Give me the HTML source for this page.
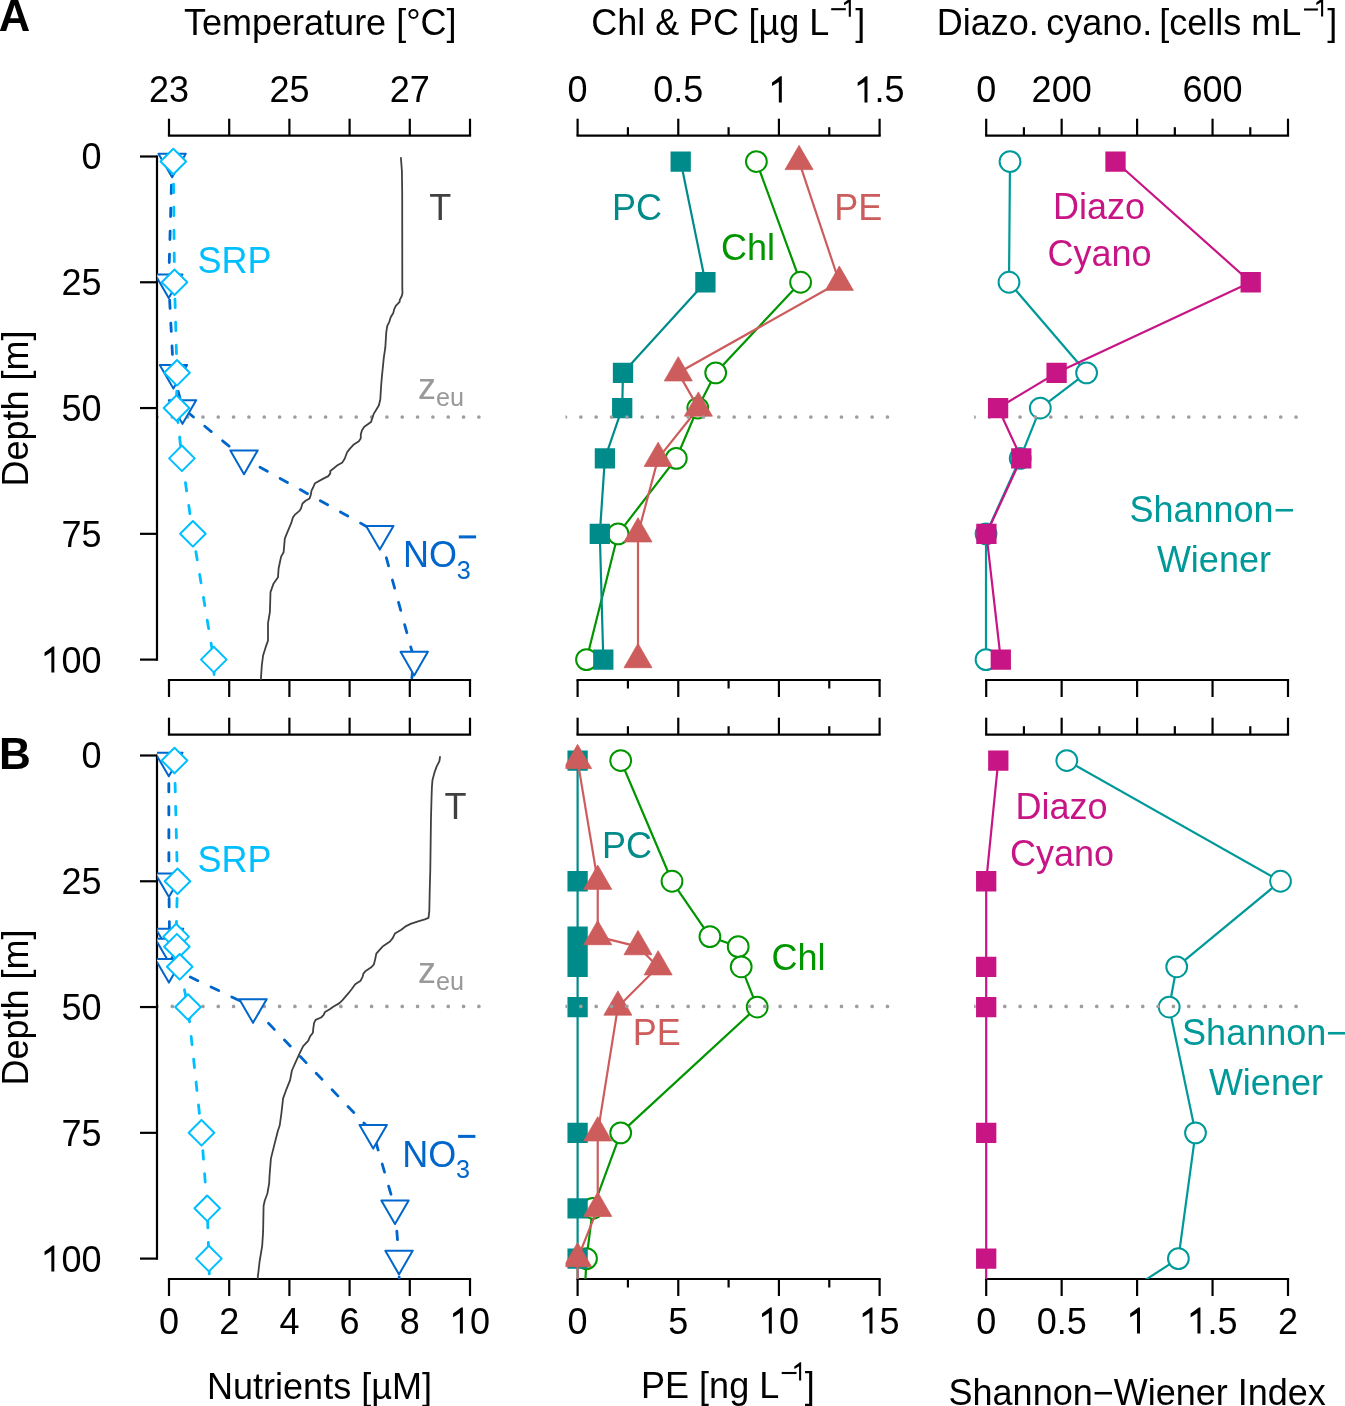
<!DOCTYPE html><html><head><meta charset="utf-8"><style>html,body{margin:0;padding:0;background:#fff;}svg{display:block;will-change:transform;}text{font-family:"Liberation Sans",sans-serif;}</style></head><body>
<svg width="1345" height="1406" viewBox="0 0 1345 1406">
<rect width="1345" height="1406" fill="#fff"/>
<defs>
<clipPath id="cA1"><rect x="156.96" y="135.7" width="325.08" height="544.3"/></clipPath>
<clipPath id="cA2"><rect x="565.52" y="135.7" width="326.16" height="544.3"/></clipPath>
<clipPath id="cA3"><rect x="974.13" y="135.7" width="325.94" height="544.3"/></clipPath>
<clipPath id="cB1"><rect x="156.96" y="734.7" width="325.08" height="544.3"/></clipPath>
<clipPath id="cB2"><rect x="565.52" y="734.7" width="326.16" height="544.3"/></clipPath>
<clipPath id="cB3"><rect x="974.13" y="734.7" width="325.94" height="544.3"/></clipPath>
</defs>
<g clip-path="url(#cA1)"><path d="M155.11,417a1.85,1.85 0 1,0 3.7,0a1.85,1.85 0 1,0 -3.7,0ZM170.44,417a1.85,1.85 0 1,0 3.7,0a1.85,1.85 0 1,0 -3.7,0ZM185.77,417a1.85,1.85 0 1,0 3.7,0a1.85,1.85 0 1,0 -3.7,0ZM201.1,417a1.85,1.85 0 1,0 3.7,0a1.85,1.85 0 1,0 -3.7,0ZM216.43,417a1.85,1.85 0 1,0 3.7,0a1.85,1.85 0 1,0 -3.7,0ZM231.76,417a1.85,1.85 0 1,0 3.7,0a1.85,1.85 0 1,0 -3.7,0ZM247.09,417a1.85,1.85 0 1,0 3.7,0a1.85,1.85 0 1,0 -3.7,0ZM262.42,417a1.85,1.85 0 1,0 3.7,0a1.85,1.85 0 1,0 -3.7,0ZM277.75,417a1.85,1.85 0 1,0 3.7,0a1.85,1.85 0 1,0 -3.7,0ZM293.08,417a1.85,1.85 0 1,0 3.7,0a1.85,1.85 0 1,0 -3.7,0ZM308.41,417a1.85,1.85 0 1,0 3.7,0a1.85,1.85 0 1,0 -3.7,0ZM323.74,417a1.85,1.85 0 1,0 3.7,0a1.85,1.85 0 1,0 -3.7,0ZM339.07,417a1.85,1.85 0 1,0 3.7,0a1.85,1.85 0 1,0 -3.7,0ZM354.4,417a1.85,1.85 0 1,0 3.7,0a1.85,1.85 0 1,0 -3.7,0ZM369.73,417a1.85,1.85 0 1,0 3.7,0a1.85,1.85 0 1,0 -3.7,0ZM385.06,417a1.85,1.85 0 1,0 3.7,0a1.85,1.85 0 1,0 -3.7,0ZM400.39,417a1.85,1.85 0 1,0 3.7,0a1.85,1.85 0 1,0 -3.7,0ZM415.72,417a1.85,1.85 0 1,0 3.7,0a1.85,1.85 0 1,0 -3.7,0ZM431.05,417a1.85,1.85 0 1,0 3.7,0a1.85,1.85 0 1,0 -3.7,0ZM446.38,417a1.85,1.85 0 1,0 3.7,0a1.85,1.85 0 1,0 -3.7,0ZM461.71,417a1.85,1.85 0 1,0 3.7,0a1.85,1.85 0 1,0 -3.7,0ZM477.04,417a1.85,1.85 0 1,0 3.7,0a1.85,1.85 0 1,0 -3.7,0Z" fill="#9E9E9E"/></g><g clip-path="url(#cB1)"><path d="M155.11,1006.4a1.85,1.85 0 1,0 3.7,0a1.85,1.85 0 1,0 -3.7,0ZM170.44,1006.4a1.85,1.85 0 1,0 3.7,0a1.85,1.85 0 1,0 -3.7,0ZM185.77,1006.4a1.85,1.85 0 1,0 3.7,0a1.85,1.85 0 1,0 -3.7,0ZM201.1,1006.4a1.85,1.85 0 1,0 3.7,0a1.85,1.85 0 1,0 -3.7,0ZM216.43,1006.4a1.85,1.85 0 1,0 3.7,0a1.85,1.85 0 1,0 -3.7,0ZM231.76,1006.4a1.85,1.85 0 1,0 3.7,0a1.85,1.85 0 1,0 -3.7,0ZM247.09,1006.4a1.85,1.85 0 1,0 3.7,0a1.85,1.85 0 1,0 -3.7,0ZM262.42,1006.4a1.85,1.85 0 1,0 3.7,0a1.85,1.85 0 1,0 -3.7,0ZM277.75,1006.4a1.85,1.85 0 1,0 3.7,0a1.85,1.85 0 1,0 -3.7,0ZM293.08,1006.4a1.85,1.85 0 1,0 3.7,0a1.85,1.85 0 1,0 -3.7,0ZM308.41,1006.4a1.85,1.85 0 1,0 3.7,0a1.85,1.85 0 1,0 -3.7,0ZM323.74,1006.4a1.85,1.85 0 1,0 3.7,0a1.85,1.85 0 1,0 -3.7,0ZM339.07,1006.4a1.85,1.85 0 1,0 3.7,0a1.85,1.85 0 1,0 -3.7,0ZM354.4,1006.4a1.85,1.85 0 1,0 3.7,0a1.85,1.85 0 1,0 -3.7,0ZM369.73,1006.4a1.85,1.85 0 1,0 3.7,0a1.85,1.85 0 1,0 -3.7,0ZM385.06,1006.4a1.85,1.85 0 1,0 3.7,0a1.85,1.85 0 1,0 -3.7,0ZM400.39,1006.4a1.85,1.85 0 1,0 3.7,0a1.85,1.85 0 1,0 -3.7,0ZM415.72,1006.4a1.85,1.85 0 1,0 3.7,0a1.85,1.85 0 1,0 -3.7,0ZM431.05,1006.4a1.85,1.85 0 1,0 3.7,0a1.85,1.85 0 1,0 -3.7,0ZM446.38,1006.4a1.85,1.85 0 1,0 3.7,0a1.85,1.85 0 1,0 -3.7,0ZM461.71,1006.4a1.85,1.85 0 1,0 3.7,0a1.85,1.85 0 1,0 -3.7,0ZM477.04,1006.4a1.85,1.85 0 1,0 3.7,0a1.85,1.85 0 1,0 -3.7,0Z" fill="#9E9E9E"/></g>
<line x1="169" y1="135.7" x2="470" y2="135.7" stroke="#000" stroke-width="2.2" stroke-linecap="square"/>
<line x1="169" y1="135.7" x2="169" y2="118.7" stroke="#000" stroke-width="2.2"/>
<line x1="229.2" y1="135.7" x2="229.2" y2="118.7" stroke="#000" stroke-width="2.2"/>
<line x1="289.4" y1="135.7" x2="289.4" y2="118.7" stroke="#000" stroke-width="2.2"/>
<line x1="349.6" y1="135.7" x2="349.6" y2="118.7" stroke="#000" stroke-width="2.2"/>
<line x1="409.8" y1="135.7" x2="409.8" y2="118.7" stroke="#000" stroke-width="2.2"/>
<line x1="470" y1="135.7" x2="470" y2="118.7" stroke="#000" stroke-width="2.2"/>
<line x1="169" y1="680" x2="470" y2="680" stroke="#000" stroke-width="2.2" stroke-linecap="square"/>
<line x1="169" y1="680" x2="169" y2="697" stroke="#000" stroke-width="2.2"/>
<line x1="229.2" y1="680" x2="229.2" y2="697" stroke="#000" stroke-width="2.2"/>
<line x1="289.4" y1="680" x2="289.4" y2="697" stroke="#000" stroke-width="2.2"/>
<line x1="349.6" y1="680" x2="349.6" y2="697" stroke="#000" stroke-width="2.2"/>
<line x1="409.8" y1="680" x2="409.8" y2="697" stroke="#000" stroke-width="2.2"/>
<line x1="470" y1="680" x2="470" y2="697" stroke="#000" stroke-width="2.2"/>
<line x1="577.6" y1="135.7" x2="879.6" y2="135.7" stroke="#000" stroke-width="2.2" stroke-linecap="square"/>
<line x1="577.6" y1="135.7" x2="577.6" y2="118.7" stroke="#000" stroke-width="2.2"/>
<line x1="678.27" y1="135.7" x2="678.27" y2="118.7" stroke="#000" stroke-width="2.2"/>
<line x1="778.93" y1="135.7" x2="778.93" y2="118.7" stroke="#000" stroke-width="2.2"/>
<line x1="879.6" y1="135.7" x2="879.6" y2="118.7" stroke="#000" stroke-width="2.2"/>
<line x1="627.93" y1="135.7" x2="627.93" y2="127.2" stroke="#000" stroke-width="2.2"/>
<line x1="728.6" y1="135.7" x2="728.6" y2="127.2" stroke="#000" stroke-width="2.2"/>
<line x1="829.27" y1="135.7" x2="829.27" y2="127.2" stroke="#000" stroke-width="2.2"/>
<line x1="577.6" y1="680" x2="879.6" y2="680" stroke="#000" stroke-width="2.2" stroke-linecap="square"/>
<line x1="577.6" y1="680" x2="577.6" y2="697" stroke="#000" stroke-width="2.2"/>
<line x1="678.27" y1="680" x2="678.27" y2="697" stroke="#000" stroke-width="2.2"/>
<line x1="778.93" y1="680" x2="778.93" y2="697" stroke="#000" stroke-width="2.2"/>
<line x1="879.6" y1="680" x2="879.6" y2="697" stroke="#000" stroke-width="2.2"/>
<line x1="627.93" y1="680" x2="627.93" y2="688.5" stroke="#000" stroke-width="2.2"/>
<line x1="728.6" y1="680" x2="728.6" y2="688.5" stroke="#000" stroke-width="2.2"/>
<line x1="829.27" y1="680" x2="829.27" y2="688.5" stroke="#000" stroke-width="2.2"/>
<line x1="986.2" y1="135.7" x2="1288" y2="135.7" stroke="#000" stroke-width="2.2" stroke-linecap="square"/>
<line x1="986.2" y1="135.7" x2="986.2" y2="118.7" stroke="#000" stroke-width="2.2"/>
<line x1="1061.65" y1="135.7" x2="1061.65" y2="118.7" stroke="#000" stroke-width="2.2"/>
<line x1="1137.1" y1="135.7" x2="1137.1" y2="118.7" stroke="#000" stroke-width="2.2"/>
<line x1="1212.55" y1="135.7" x2="1212.55" y2="118.7" stroke="#000" stroke-width="2.2"/>
<line x1="1288" y1="135.7" x2="1288" y2="118.7" stroke="#000" stroke-width="2.2"/>
<line x1="1023.93" y1="135.7" x2="1023.93" y2="127.2" stroke="#000" stroke-width="2.2"/>
<line x1="1099.38" y1="135.7" x2="1099.38" y2="127.2" stroke="#000" stroke-width="2.2"/>
<line x1="1174.83" y1="135.7" x2="1174.83" y2="127.2" stroke="#000" stroke-width="2.2"/>
<line x1="1250.28" y1="135.7" x2="1250.28" y2="127.2" stroke="#000" stroke-width="2.2"/>
<line x1="986.2" y1="680" x2="1288" y2="680" stroke="#000" stroke-width="2.2" stroke-linecap="square"/>
<line x1="986.2" y1="680" x2="986.2" y2="697" stroke="#000" stroke-width="2.2"/>
<line x1="1061.65" y1="680" x2="1061.65" y2="697" stroke="#000" stroke-width="2.2"/>
<line x1="1137.1" y1="680" x2="1137.1" y2="697" stroke="#000" stroke-width="2.2"/>
<line x1="1212.55" y1="680" x2="1212.55" y2="697" stroke="#000" stroke-width="2.2"/>
<line x1="1288" y1="680" x2="1288" y2="697" stroke="#000" stroke-width="2.2"/>
<line x1="157" y1="156.5" x2="157" y2="659.6" stroke="#000" stroke-width="2.2" stroke-linecap="square"/>
<line x1="157" y1="156.5" x2="140" y2="156.5" stroke="#000" stroke-width="2.2"/>
<line x1="157" y1="282.27" x2="140" y2="282.27" stroke="#000" stroke-width="2.2"/>
<line x1="157" y1="408.05" x2="140" y2="408.05" stroke="#000" stroke-width="2.2"/>
<line x1="157" y1="533.83" x2="140" y2="533.83" stroke="#000" stroke-width="2.2"/>
<line x1="157" y1="659.6" x2="140" y2="659.6" stroke="#000" stroke-width="2.2"/>
<text x="81.48" y="169.4" font-size="36" fill="#000">0</text>
<text x="61.46" y="295.17" font-size="36" fill="#000">25</text>
<text x="61.46" y="420.95" font-size="36" fill="#000">50</text>
<text x="61.46" y="546.73" font-size="36" fill="#000">75</text>
<path d="M54.34,672.5 L51.34,672.5 L51.34,652.1 L47.94,654.2 L44.54,656.2 L44.54,652.6 L48.44,649.8 L51.74,647.2 L52.64,646.4 L54.34,646.4 Z" fill="#000"/>
<text x="61.46" y="672.5" font-size="36" fill="#000">00</text>
<text x="0" y="0" font-size="36" text-anchor="middle" transform="translate(28,408.55) rotate(-90)">Depth [m]</text>
<line x1="169" y1="734.7" x2="470" y2="734.7" stroke="#000" stroke-width="2.2" stroke-linecap="square"/>
<line x1="169" y1="734.7" x2="169" y2="717.7" stroke="#000" stroke-width="2.2"/>
<line x1="229.2" y1="734.7" x2="229.2" y2="717.7" stroke="#000" stroke-width="2.2"/>
<line x1="289.4" y1="734.7" x2="289.4" y2="717.7" stroke="#000" stroke-width="2.2"/>
<line x1="349.6" y1="734.7" x2="349.6" y2="717.7" stroke="#000" stroke-width="2.2"/>
<line x1="409.8" y1="734.7" x2="409.8" y2="717.7" stroke="#000" stroke-width="2.2"/>
<line x1="470" y1="734.7" x2="470" y2="717.7" stroke="#000" stroke-width="2.2"/>
<line x1="169" y1="1279" x2="470" y2="1279" stroke="#000" stroke-width="2.2" stroke-linecap="square"/>
<line x1="169" y1="1279" x2="169" y2="1296" stroke="#000" stroke-width="2.2"/>
<line x1="229.2" y1="1279" x2="229.2" y2="1296" stroke="#000" stroke-width="2.2"/>
<line x1="289.4" y1="1279" x2="289.4" y2="1296" stroke="#000" stroke-width="2.2"/>
<line x1="349.6" y1="1279" x2="349.6" y2="1296" stroke="#000" stroke-width="2.2"/>
<line x1="409.8" y1="1279" x2="409.8" y2="1296" stroke="#000" stroke-width="2.2"/>
<line x1="470" y1="1279" x2="470" y2="1296" stroke="#000" stroke-width="2.2"/>
<line x1="577.6" y1="734.7" x2="879.6" y2="734.7" stroke="#000" stroke-width="2.2" stroke-linecap="square"/>
<line x1="577.6" y1="734.7" x2="577.6" y2="717.7" stroke="#000" stroke-width="2.2"/>
<line x1="678.27" y1="734.7" x2="678.27" y2="717.7" stroke="#000" stroke-width="2.2"/>
<line x1="778.93" y1="734.7" x2="778.93" y2="717.7" stroke="#000" stroke-width="2.2"/>
<line x1="879.6" y1="734.7" x2="879.6" y2="717.7" stroke="#000" stroke-width="2.2"/>
<line x1="627.93" y1="734.7" x2="627.93" y2="726.2" stroke="#000" stroke-width="2.2"/>
<line x1="728.6" y1="734.7" x2="728.6" y2="726.2" stroke="#000" stroke-width="2.2"/>
<line x1="829.27" y1="734.7" x2="829.27" y2="726.2" stroke="#000" stroke-width="2.2"/>
<line x1="577.6" y1="1279" x2="879.6" y2="1279" stroke="#000" stroke-width="2.2" stroke-linecap="square"/>
<line x1="577.6" y1="1279" x2="577.6" y2="1296" stroke="#000" stroke-width="2.2"/>
<line x1="678.27" y1="1279" x2="678.27" y2="1296" stroke="#000" stroke-width="2.2"/>
<line x1="778.93" y1="1279" x2="778.93" y2="1296" stroke="#000" stroke-width="2.2"/>
<line x1="879.6" y1="1279" x2="879.6" y2="1296" stroke="#000" stroke-width="2.2"/>
<line x1="627.93" y1="1279" x2="627.93" y2="1287.5" stroke="#000" stroke-width="2.2"/>
<line x1="728.6" y1="1279" x2="728.6" y2="1287.5" stroke="#000" stroke-width="2.2"/>
<line x1="829.27" y1="1279" x2="829.27" y2="1287.5" stroke="#000" stroke-width="2.2"/>
<line x1="986.2" y1="734.7" x2="1288" y2="734.7" stroke="#000" stroke-width="2.2" stroke-linecap="square"/>
<line x1="986.2" y1="734.7" x2="986.2" y2="717.7" stroke="#000" stroke-width="2.2"/>
<line x1="1061.65" y1="734.7" x2="1061.65" y2="717.7" stroke="#000" stroke-width="2.2"/>
<line x1="1137.1" y1="734.7" x2="1137.1" y2="717.7" stroke="#000" stroke-width="2.2"/>
<line x1="1212.55" y1="734.7" x2="1212.55" y2="717.7" stroke="#000" stroke-width="2.2"/>
<line x1="1288" y1="734.7" x2="1288" y2="717.7" stroke="#000" stroke-width="2.2"/>
<line x1="1023.93" y1="734.7" x2="1023.93" y2="726.2" stroke="#000" stroke-width="2.2"/>
<line x1="1099.38" y1="734.7" x2="1099.38" y2="726.2" stroke="#000" stroke-width="2.2"/>
<line x1="1174.83" y1="734.7" x2="1174.83" y2="726.2" stroke="#000" stroke-width="2.2"/>
<line x1="1250.28" y1="734.7" x2="1250.28" y2="726.2" stroke="#000" stroke-width="2.2"/>
<line x1="986.2" y1="1279" x2="1288" y2="1279" stroke="#000" stroke-width="2.2" stroke-linecap="square"/>
<line x1="986.2" y1="1279" x2="986.2" y2="1296" stroke="#000" stroke-width="2.2"/>
<line x1="1061.65" y1="1279" x2="1061.65" y2="1296" stroke="#000" stroke-width="2.2"/>
<line x1="1137.1" y1="1279" x2="1137.1" y2="1296" stroke="#000" stroke-width="2.2"/>
<line x1="1212.55" y1="1279" x2="1212.55" y2="1296" stroke="#000" stroke-width="2.2"/>
<line x1="1288" y1="1279" x2="1288" y2="1296" stroke="#000" stroke-width="2.2"/>
<line x1="157" y1="755.5" x2="157" y2="1258.6" stroke="#000" stroke-width="2.2" stroke-linecap="square"/>
<line x1="157" y1="755.5" x2="140" y2="755.5" stroke="#000" stroke-width="2.2"/>
<line x1="157" y1="881.27" x2="140" y2="881.27" stroke="#000" stroke-width="2.2"/>
<line x1="157" y1="1007.05" x2="140" y2="1007.05" stroke="#000" stroke-width="2.2"/>
<line x1="157" y1="1132.83" x2="140" y2="1132.83" stroke="#000" stroke-width="2.2"/>
<line x1="157" y1="1258.6" x2="140" y2="1258.6" stroke="#000" stroke-width="2.2"/>
<text x="81.48" y="768.4" font-size="36" fill="#000">0</text>
<text x="61.46" y="894.17" font-size="36" fill="#000">25</text>
<text x="61.46" y="1019.95" font-size="36" fill="#000">50</text>
<text x="61.46" y="1145.73" font-size="36" fill="#000">75</text>
<path d="M54.34,1271.5 L51.34,1271.5 L51.34,1251.1 L47.94,1253.2 L44.54,1255.2 L44.54,1251.6 L48.44,1248.8 L51.74,1246.2 L52.64,1245.4 L54.34,1245.4 Z" fill="#000"/>
<text x="61.46" y="1271.5" font-size="36" fill="#000">00</text>
<text x="0" y="0" font-size="36" text-anchor="middle" transform="translate(28,1007.55) rotate(-90)">Depth [m]</text>
<text x="148.98" y="102.4" font-size="36" fill="#000">23</text>
<text x="269.38" y="102.4" font-size="36" fill="#000">25</text>
<text x="389.78" y="102.4" font-size="36" fill="#000">27</text>
<text x="567.59" y="102.4" font-size="36" fill="#000">0</text>
<text x="653.24" y="102.4" font-size="36" fill="#000">0.5</text>
<path d="M781.82,102.4 L778.82,102.4 L778.82,82 L775.42,84.1 L772.02,86.1 L772.02,82.5 L775.92,79.7 L779.22,77.1 L780.12,76.3 L781.82,76.3 Z" fill="#000"/>
<path d="M867.48,102.4 L864.48,102.4 L864.48,82 L861.08,84.1 L857.68,86.1 L857.68,82.5 L861.58,79.7 L864.88,77.1 L865.78,76.3 L867.48,76.3 Z" fill="#000"/>
<text x="874.6" y="102.4" font-size="36" fill="#000">.5</text>
<text x="976.19" y="102.4" font-size="36" fill="#000">0</text>
<text x="1031.62" y="102.4" font-size="36" fill="#000">200</text>
<text x="1182.52" y="102.4" font-size="36" fill="#000">600</text>
<text x="158.99" y="1333.5" font-size="36" fill="#000">0</text>
<text x="219.19" y="1333.5" font-size="36" fill="#000">2</text>
<text x="279.39" y="1333.5" font-size="36" fill="#000">4</text>
<text x="339.59" y="1333.5" font-size="36" fill="#000">6</text>
<text x="399.79" y="1333.5" font-size="36" fill="#000">8</text>
<path d="M462.88,1333.5 L459.88,1333.5 L459.88,1313.1 L456.48,1315.2 L453.08,1317.2 L453.08,1313.6 L456.98,1310.8 L460.28,1308.2 L461.18,1307.4 L462.88,1307.4 Z" fill="#000"/>
<text x="470" y="1333.5" font-size="36" fill="#000">0</text>
<text x="567.59" y="1333.5" font-size="36" fill="#000">0</text>
<text x="668.26" y="1333.5" font-size="36" fill="#000">5</text>
<path d="M771.81,1333.5 L768.81,1333.5 L768.81,1313.1 L765.41,1315.2 L762.01,1317.2 L762.01,1313.6 L765.91,1310.8 L769.21,1308.2 L770.11,1307.4 L771.81,1307.4 Z" fill="#000"/>
<text x="778.93" y="1333.5" font-size="36" fill="#000">0</text>
<path d="M872.48,1333.5 L869.48,1333.5 L869.48,1313.1 L866.08,1315.2 L862.68,1317.2 L862.68,1313.6 L866.58,1310.8 L869.88,1308.2 L870.78,1307.4 L872.48,1307.4 Z" fill="#000"/>
<text x="879.6" y="1333.5" font-size="36" fill="#000">5</text>
<text x="976.19" y="1333.5" font-size="36" fill="#000">0</text>
<text x="1036.63" y="1333.5" font-size="36" fill="#000">0.5</text>
<path d="M1139.99,1333.5 L1136.99,1333.5 L1136.99,1313.1 L1133.59,1315.2 L1130.19,1317.2 L1130.19,1313.6 L1134.09,1310.8 L1137.39,1308.2 L1138.29,1307.4 L1139.99,1307.4 Z" fill="#000"/>
<path d="M1200.43,1333.5 L1197.43,1333.5 L1197.43,1313.1 L1194.03,1315.2 L1190.63,1317.2 L1190.63,1313.6 L1194.53,1310.8 L1197.83,1308.2 L1198.73,1307.4 L1200.43,1307.4 Z" fill="#000"/>
<text x="1207.55" y="1333.5" font-size="36" fill="#000">.5</text>
<text x="1277.99" y="1333.5" font-size="36" fill="#000">2</text>
<text x="-1.2" y="30.8" font-size="43.5" fill="#000000" font-weight="bold">A</text>
<text x="-1.1" y="768.6" font-size="44" fill="#000000" font-weight="bold">B</text>
<text x="320.3" y="34.6" font-size="36" fill="#000000" text-anchor="middle">Temperature [°C]</text>
<text x="591.3" y="34.6" font-size="36" fill="#000000">Chl &amp;</text>
<text x="689.1" y="34.6" font-size="36" fill="#000000">PC</text>
<text x="748.4" y="34.6" font-size="36" fill="#000000">[µg L</text>
<rect x="831.2" y="8.15" width="14.6" height="2.1" fill="#000"/>
<path d="M850.86,16.7 L848.76,16.7 L848.76,2.42 L846.38,3.89 L844,5.29 L844,2.77 L846.73,0.81 L849.04,-1.01 L849.67,-1.57 L850.86,-1.57 Z" fill="#000"/>
<text x="855.2" y="34.6" font-size="36" fill="#000000">]</text>
<text x="936.7" y="34.6" font-size="36" fill="#000000">Diazo.</text>
<text x="1046.2" y="34.6" font-size="36" fill="#000000">cyano.</text>
<text x="1159.2" y="34.6" font-size="36" fill="#000000">[cells mL</text>
<rect x="1304" y="8.45" width="13.9" height="2.1" fill="#000"/>
<path d="M1323.16,16.5 L1321.06,16.5 L1321.06,2.22 L1318.68,3.69 L1316.3,5.09 L1316.3,2.57 L1319.03,0.61 L1321.34,-1.21 L1321.97,-1.77 L1323.16,-1.77 Z" fill="#000"/>
<text x="1327.3" y="34.6" font-size="36" fill="#000000">]</text>
<text x="319.5" y="1398.7" font-size="36" fill="#000000" text-anchor="middle">Nutrients [µM]</text>
<text x="641.1" y="1398.3" font-size="36" fill="#000000">PE [ng L</text>
<rect x="781.7" y="1371.95" width="14.8" height="2.1" fill="#000"/>
<path d="M801.16,1380.5 L799.06,1380.5 L799.06,1366.22 L796.68,1367.69 L794.3,1369.09 L794.3,1366.57 L797.03,1364.61 L799.34,1362.79 L799.97,1362.23 L801.16,1362.23 Z" fill="#000"/>
<text x="804.7" y="1398.3" font-size="36" fill="#000000">]</text>
<text x="1137.2" y="1405.3" font-size="36" fill="#000000" text-anchor="middle">Shannon−Wiener Index</text>
<g clip-path="url(#cA1)">
<polyline points="400.9,157.8 401.9,171 402.2,193 402.3,288 402.5,293 401.8,296 399.8,299.9 399.6,301.9 395.8,305.9 394.3,308.9 393.3,312.9 390.8,316.9 389.3,321.8 387.3,325.8 386.3,331.8 385.8,339.8 385.3,347.7 383.8,357.7 382.8,367.6 381.8,377.6 381,387.6 380.3,399.5 378.8,405.5 376.1,410 373.7,413.9 372.2,418.6 371,422.1 368.2,424.1 364.3,426.8 362,430.3 360.8,434.3 360.8,438.2 358.9,441.3 353.4,444.8 349.5,449.1 347.1,452.3 344.8,458.5 342.4,462.4 337,465.6 333.8,468.3 330.3,471 330.3,473.4 328.3,476.1 322.9,478.9 315,483.2 313.1,487.5 311.5,490.6 310.7,495.3 309.6,498.4 305.6,500.8 302.5,503.5 301,508.6 299.4,510.9 294.7,514.9 292.9,517.5 291,523.7 287.3,532.4 284.8,538.6 283.6,552.3 281.1,556.6 279.9,562.2 278.6,568.5 278,577.2 273.6,583.4 270.5,592.1 269.9,612 268,623.2 268,640.6 266.2,645.6 263.1,655.5 261.8,665.5 260.9,679.2 260.8,682" fill="none" stroke="#404040" stroke-width="1.8" stroke-linejoin="round" stroke-linecap="round"/>
<polyline points="172.1,161.53 168.7,282.27 173.4,372.83 182.5,408.05 244,458.36 379.8,533.83" fill="none" stroke="#0066CC" stroke-width="2.8" stroke-linejoin="round" stroke-linecap="round" stroke-dasharray="8.4 14.6" stroke-dashoffset="-0.6"/>
<polyline points="379.8,533.83 414.2,659.6 398,785.38" fill="none" stroke="#0066CC" stroke-width="2.8" stroke-linejoin="round" stroke-linecap="round" stroke-dasharray="8.4 14.7" stroke-dashoffset="21.4"/>
<polygon points="172.1,177.32 185.77,153.64 158.43,153.64" fill="#fff" stroke="#0066CC" stroke-width="2.0" stroke-linejoin="round"/>
<polygon points="168.7,298.06 182.37,274.38 155.03,274.38" fill="#fff" stroke="#0066CC" stroke-width="2.0" stroke-linejoin="round"/>
<polygon points="173.4,388.62 187.07,364.94 159.73,364.94" fill="#fff" stroke="#0066CC" stroke-width="2.0" stroke-linejoin="round"/>
<polygon points="182.5,423.83 196.17,400.16 168.83,400.16" fill="#fff" stroke="#0066CC" stroke-width="2.0" stroke-linejoin="round"/>
<polygon points="244,474.14 257.67,450.47 230.33,450.47" fill="#fff" stroke="#0066CC" stroke-width="2.0" stroke-linejoin="round"/>
<polygon points="379.8,549.61 393.47,525.93 366.13,525.93" fill="#fff" stroke="#0066CC" stroke-width="2.0" stroke-linejoin="round"/>
<polygon points="414.2,675.38 427.87,651.71 400.53,651.71" fill="#fff" stroke="#0066CC" stroke-width="2.0" stroke-linejoin="round"/>
<polygon points="398,801.16 411.67,777.48 384.33,777.48" fill="#fff" stroke="#0066CC" stroke-width="2.0" stroke-linejoin="round"/>
<polyline points="173.3,161.53 174.5,282.27 177,372.83 176.5,408.05 181.9,458.36 192.9,533.83" fill="none" stroke="#00BFFF" stroke-width="2.8" stroke-linejoin="round" stroke-linecap="round" stroke-dasharray="8.4 14.6" stroke-dashoffset="0.3"/>
<polyline points="192.9,533.83 213.8,659.6 216,785.38" fill="none" stroke="#00BFFF" stroke-width="2.8" stroke-linejoin="round" stroke-linecap="round" stroke-dasharray="8.4 14.8" stroke-dashoffset="5.2"/>
<polygon points="173.3,148.73 186.1,161.53 173.3,174.33 160.5,161.53" fill="#fff" stroke="#00BFFF" stroke-width="2.0" stroke-linejoin="round"/>
<polygon points="174.5,269.47 187.3,282.27 174.5,295.07 161.7,282.27" fill="#fff" stroke="#00BFFF" stroke-width="2.0" stroke-linejoin="round"/>
<polygon points="177,360.03 189.8,372.83 177,385.63 164.2,372.83" fill="#fff" stroke="#00BFFF" stroke-width="2.0" stroke-linejoin="round"/>
<polygon points="176.5,395.25 189.3,408.05 176.5,420.85 163.7,408.05" fill="#fff" stroke="#00BFFF" stroke-width="2.0" stroke-linejoin="round"/>
<polygon points="181.9,445.56 194.7,458.36 181.9,471.16 169.1,458.36" fill="#fff" stroke="#00BFFF" stroke-width="2.0" stroke-linejoin="round"/>
<polygon points="192.9,521.03 205.7,533.83 192.9,546.62 180.1,533.83" fill="#fff" stroke="#00BFFF" stroke-width="2.0" stroke-linejoin="round"/>
<polygon points="213.8,646.8 226.6,659.6 213.8,672.4 201,659.6" fill="#fff" stroke="#00BFFF" stroke-width="2.0" stroke-linejoin="round"/>
<polygon points="216,772.58 228.8,785.38 216,798.17 203.2,785.38" fill="#fff" stroke="#00BFFF" stroke-width="2.0" stroke-linejoin="round"/>
</g>
<g clip-path="url(#cA2)">
<polyline points="756.4,161.53 800.6,282.27 715.7,372.83 697.8,408.05 676.3,458.36 618.1,533.83 586.5,659.6" fill="none" stroke="#009600" stroke-width="2.2" stroke-linejoin="round" stroke-linecap="round"/>
<circle cx="756.4" cy="161.53" r="10.4" fill="#fff" stroke="#009600" stroke-width="2.0"/>
<circle cx="800.6" cy="282.27" r="10.4" fill="#fff" stroke="#009600" stroke-width="2.0"/>
<circle cx="715.7" cy="372.83" r="10.4" fill="#fff" stroke="#009600" stroke-width="2.0"/>
<circle cx="697.8" cy="408.05" r="10.4" fill="#fff" stroke="#009600" stroke-width="2.0"/>
<circle cx="676.3" cy="458.36" r="10.4" fill="#fff" stroke="#009600" stroke-width="2.0"/>
<circle cx="618.1" cy="533.83" r="10.4" fill="#fff" stroke="#009600" stroke-width="2.0"/>
<circle cx="586.5" cy="659.6" r="10.4" fill="#fff" stroke="#009600" stroke-width="2.0"/>
<polyline points="799.07,161.53 839.33,282.27 678.27,372.83 698.4,408.05 658.13,458.36 638,533.83 638,659.6" fill="none" stroke="#CD5C5C" stroke-width="2.2" stroke-linejoin="round" stroke-linecap="round"/>
<polygon points="799.07,145.36 813.07,169.62 785.06,169.62" fill="#CD5C5C" stroke="#CD5C5C" stroke-width="0.8" stroke-linejoin="miter"/>
<polygon points="839.33,266.1 853.34,290.36 825.33,290.36" fill="#CD5C5C" stroke="#CD5C5C" stroke-width="0.8" stroke-linejoin="miter"/>
<polygon points="678.27,356.66 692.27,380.92 664.26,380.92" fill="#CD5C5C" stroke="#CD5C5C" stroke-width="0.8" stroke-linejoin="miter"/>
<polygon points="698.4,391.88 712.41,416.14 684.39,416.14" fill="#CD5C5C" stroke="#CD5C5C" stroke-width="0.8" stroke-linejoin="miter"/>
<polygon points="658.13,442.19 672.14,466.45 644.13,466.45" fill="#CD5C5C" stroke="#CD5C5C" stroke-width="0.8" stroke-linejoin="miter"/>
<polygon points="638,517.65 652.01,541.91 623.99,541.91" fill="#CD5C5C" stroke="#CD5C5C" stroke-width="0.8" stroke-linejoin="miter"/>
<polygon points="638,643.43 652.01,667.69 623.99,667.69" fill="#CD5C5C" stroke="#CD5C5C" stroke-width="0.8" stroke-linejoin="miter"/>
<polyline points="680.7,161.53 705.4,282.27 623,372.83 622.2,408.05 604.9,458.36 599.8,533.83 603.3,659.6" fill="none" stroke="#008B8B" stroke-width="2.2" stroke-linejoin="round" stroke-linecap="round"/>
<path d="M670.55,151.38h20.3v20.3h-20.3Z M695.25,272.12h20.3v20.3h-20.3Z M612.85,362.68h20.3v20.3h-20.3Z M612.05,397.9h20.3v20.3h-20.3Z M594.75,448.21h20.3v20.3h-20.3Z M589.65,523.68h20.3v20.3h-20.3Z M593.15,649.45h20.3v20.3h-20.3Z" fill="#008B8B"/>
<path d="M563.67,417a1.85,1.85 0 1,0 3.7,0a1.85,1.85 0 1,0 -3.7,0ZM579,417a1.85,1.85 0 1,0 3.7,0a1.85,1.85 0 1,0 -3.7,0ZM594.33,417a1.85,1.85 0 1,0 3.7,0a1.85,1.85 0 1,0 -3.7,0ZM609.66,417a1.85,1.85 0 1,0 3.7,0a1.85,1.85 0 1,0 -3.7,0ZM624.99,417a1.85,1.85 0 1,0 3.7,0a1.85,1.85 0 1,0 -3.7,0ZM640.32,417a1.85,1.85 0 1,0 3.7,0a1.85,1.85 0 1,0 -3.7,0ZM655.65,417a1.85,1.85 0 1,0 3.7,0a1.85,1.85 0 1,0 -3.7,0ZM670.98,417a1.85,1.85 0 1,0 3.7,0a1.85,1.85 0 1,0 -3.7,0ZM686.31,417a1.85,1.85 0 1,0 3.7,0a1.85,1.85 0 1,0 -3.7,0ZM701.64,417a1.85,1.85 0 1,0 3.7,0a1.85,1.85 0 1,0 -3.7,0ZM716.97,417a1.85,1.85 0 1,0 3.7,0a1.85,1.85 0 1,0 -3.7,0ZM732.3,417a1.85,1.85 0 1,0 3.7,0a1.85,1.85 0 1,0 -3.7,0ZM747.63,417a1.85,1.85 0 1,0 3.7,0a1.85,1.85 0 1,0 -3.7,0ZM762.96,417a1.85,1.85 0 1,0 3.7,0a1.85,1.85 0 1,0 -3.7,0ZM778.29,417a1.85,1.85 0 1,0 3.7,0a1.85,1.85 0 1,0 -3.7,0ZM793.62,417a1.85,1.85 0 1,0 3.7,0a1.85,1.85 0 1,0 -3.7,0ZM808.95,417a1.85,1.85 0 1,0 3.7,0a1.85,1.85 0 1,0 -3.7,0ZM824.28,417a1.85,1.85 0 1,0 3.7,0a1.85,1.85 0 1,0 -3.7,0ZM839.61,417a1.85,1.85 0 1,0 3.7,0a1.85,1.85 0 1,0 -3.7,0ZM854.94,417a1.85,1.85 0 1,0 3.7,0a1.85,1.85 0 1,0 -3.7,0ZM870.27,417a1.85,1.85 0 1,0 3.7,0a1.85,1.85 0 1,0 -3.7,0ZM885.6,417a1.85,1.85 0 1,0 3.7,0a1.85,1.85 0 1,0 -3.7,0Z" fill="#9E9E9E"/>
</g>
<g clip-path="url(#cA3)">
<polyline points="1010,161.53 1009,282.27 1086.6,372.83 1040.3,408.05 1020.2,458.36 986,533.83 986,659.6" fill="none" stroke="#009999" stroke-width="2.2" stroke-linejoin="round" stroke-linecap="round"/>
<circle cx="1010" cy="161.53" r="10.4" fill="#fff" stroke="#009999" stroke-width="2.0"/>
<circle cx="1009" cy="282.27" r="10.4" fill="#fff" stroke="#009999" stroke-width="2.0"/>
<circle cx="1086.6" cy="372.83" r="10.4" fill="#fff" stroke="#009999" stroke-width="2.0"/>
<circle cx="1040.3" cy="408.05" r="10.4" fill="#fff" stroke="#009999" stroke-width="2.0"/>
<circle cx="1020.2" cy="458.36" r="10.4" fill="#fff" stroke="#009999" stroke-width="2.0"/>
<circle cx="986" cy="533.83" r="10.4" fill="#fff" stroke="#009999" stroke-width="2.0"/>
<circle cx="986" cy="659.6" r="10.4" fill="#fff" stroke="#009999" stroke-width="2.0"/>
<path d="M972.28,417a1.85,1.85 0 1,0 3.7,0a1.85,1.85 0 1,0 -3.7,0ZM987.61,417a1.85,1.85 0 1,0 3.7,0a1.85,1.85 0 1,0 -3.7,0ZM1002.94,417a1.85,1.85 0 1,0 3.7,0a1.85,1.85 0 1,0 -3.7,0ZM1018.27,417a1.85,1.85 0 1,0 3.7,0a1.85,1.85 0 1,0 -3.7,0ZM1033.6,417a1.85,1.85 0 1,0 3.7,0a1.85,1.85 0 1,0 -3.7,0ZM1048.93,417a1.85,1.85 0 1,0 3.7,0a1.85,1.85 0 1,0 -3.7,0ZM1064.26,417a1.85,1.85 0 1,0 3.7,0a1.85,1.85 0 1,0 -3.7,0ZM1079.59,417a1.85,1.85 0 1,0 3.7,0a1.85,1.85 0 1,0 -3.7,0ZM1094.92,417a1.85,1.85 0 1,0 3.7,0a1.85,1.85 0 1,0 -3.7,0ZM1110.25,417a1.85,1.85 0 1,0 3.7,0a1.85,1.85 0 1,0 -3.7,0ZM1125.58,417a1.85,1.85 0 1,0 3.7,0a1.85,1.85 0 1,0 -3.7,0ZM1140.91,417a1.85,1.85 0 1,0 3.7,0a1.85,1.85 0 1,0 -3.7,0ZM1156.24,417a1.85,1.85 0 1,0 3.7,0a1.85,1.85 0 1,0 -3.7,0ZM1171.57,417a1.85,1.85 0 1,0 3.7,0a1.85,1.85 0 1,0 -3.7,0ZM1186.9,417a1.85,1.85 0 1,0 3.7,0a1.85,1.85 0 1,0 -3.7,0ZM1202.23,417a1.85,1.85 0 1,0 3.7,0a1.85,1.85 0 1,0 -3.7,0ZM1217.56,417a1.85,1.85 0 1,0 3.7,0a1.85,1.85 0 1,0 -3.7,0ZM1232.89,417a1.85,1.85 0 1,0 3.7,0a1.85,1.85 0 1,0 -3.7,0ZM1248.22,417a1.85,1.85 0 1,0 3.7,0a1.85,1.85 0 1,0 -3.7,0ZM1263.55,417a1.85,1.85 0 1,0 3.7,0a1.85,1.85 0 1,0 -3.7,0ZM1278.88,417a1.85,1.85 0 1,0 3.7,0a1.85,1.85 0 1,0 -3.7,0ZM1294.21,417a1.85,1.85 0 1,0 3.7,0a1.85,1.85 0 1,0 -3.7,0Z" fill="#9E9E9E"/>
<polyline points="1115.5,161.53 1250.7,282.27 1056.6,372.83 998.1,408.05 1021.3,458.36 986.4,533.83 1000.8,659.6" fill="none" stroke="#C71585" stroke-width="2.2" stroke-linejoin="round" stroke-linecap="round"/>
<path d="M1105.35,151.38h20.3v20.3h-20.3Z M1240.55,272.12h20.3v20.3h-20.3Z M1046.45,362.68h20.3v20.3h-20.3Z M987.95,397.9h20.3v20.3h-20.3Z M1011.15,448.21h20.3v20.3h-20.3Z M976.25,523.68h20.3v20.3h-20.3Z M990.65,649.45h20.3v20.3h-20.3Z" fill="#C71585"/>
</g>
<g clip-path="url(#cB1)">
<polyline points="440,757 439.4,761.2 436.7,766.4 434.5,772.4 432.5,779.9 431.9,787.3 431.5,799.3 431,817.2 430.7,839.6 430.3,869.4 429.7,891.8 429.3,911.2 428.5,917.9 424.8,919.4 417.3,921.6 410.6,923.9 406.1,926.1 400.9,929.9 394.9,933.6 392.7,938.1 390.4,941 390,941.6 382.9,946.3 381.4,947.8 376.3,953.7 375.1,959.6 373.9,964.3 371.6,967 365.7,970.9 363.4,973.6 362.6,976.8 360.6,980.7 355.2,984.2 351.6,989.3 348.5,993.2 342.3,1000.3 339.1,1003.4 333.6,1006.5 329.7,1009.2 325,1012 323.5,1015.1 321.1,1017.5 315.6,1019.8 314.1,1022.9 313.3,1028.4 312.9,1032.7 310.2,1036.2 308.2,1040.9 303.2,1046.1 299.7,1053.1 296.2,1060.9 291.9,1070.5 290.1,1080.1 286.6,1088.8 283.1,1098.4 281.4,1113.3 279.7,1125.5 277.9,1130.7 273.5,1148.1 270.9,1158.6 269.5,1176.1 269.2,1183 267.4,1193.5 264.8,1200.5 263.6,1205.7 263.1,1231.9 262.2,1245.8 259.6,1261.5 257.8,1277.2 257.6,1281" fill="none" stroke="#404040" stroke-width="1.8" stroke-linejoin="round" stroke-linecap="round"/>
<polyline points="168.8,760.53 168.9,881.27 169.5,936.62 169,946.68 168.9,966.8 253,1007.05 373.2,1132.83 395,1208.29 399,1258.6 400,1384.38" fill="none" stroke="#0066CC" stroke-width="2.8" stroke-linejoin="round" stroke-linecap="round" stroke-dasharray="8.4 14.6" stroke-dashoffset="0"/>
<polygon points="168.8,776.32 182.47,752.64 155.13,752.64" fill="#fff" stroke="#0066CC" stroke-width="2.0" stroke-linejoin="round"/>
<polygon points="168.9,897.06 182.57,873.38 155.23,873.38" fill="#fff" stroke="#0066CC" stroke-width="2.0" stroke-linejoin="round"/>
<polygon points="169.5,952.4 183.17,928.72 155.83,928.72" fill="#fff" stroke="#0066CC" stroke-width="2.0" stroke-linejoin="round"/>
<polygon points="169,962.46 182.67,938.79 155.33,938.79" fill="#fff" stroke="#0066CC" stroke-width="2.0" stroke-linejoin="round"/>
<polygon points="168.9,982.59 182.57,958.91 155.23,958.91" fill="#fff" stroke="#0066CC" stroke-width="2.0" stroke-linejoin="round"/>
<polygon points="253,1022.83 266.67,999.16 239.33,999.16" fill="#fff" stroke="#0066CC" stroke-width="2.0" stroke-linejoin="round"/>
<polygon points="373.2,1148.61 386.87,1124.93 359.53,1124.93" fill="#fff" stroke="#0066CC" stroke-width="2.0" stroke-linejoin="round"/>
<polygon points="395,1224.07 408.67,1200.4 381.33,1200.4" fill="#fff" stroke="#0066CC" stroke-width="2.0" stroke-linejoin="round"/>
<polygon points="399,1274.38 412.67,1250.71 385.33,1250.71" fill="#fff" stroke="#0066CC" stroke-width="2.0" stroke-linejoin="round"/>
<polygon points="400,1400.16 413.67,1376.48 386.33,1376.48" fill="#fff" stroke="#0066CC" stroke-width="2.0" stroke-linejoin="round"/>
<polyline points="174.5,760.53 177.5,881.27 176.1,936.62 176.9,946.68 179.7,966.8 188,1007.05" fill="none" stroke="#00BFFF" stroke-width="2.8" stroke-linejoin="round" stroke-linecap="round" stroke-dasharray="8.4 14.6" stroke-dashoffset="0"/>
<polyline points="188,1007.05 201.5,1132.83 207.2,1208.29 208.9,1258.6 212,1384.38" fill="none" stroke="#00BFFF" stroke-width="2.8" stroke-linejoin="round" stroke-linecap="round" stroke-dasharray="8.4 14.6" stroke-dashoffset="16.6"/>
<polygon points="174.5,747.73 187.3,760.53 174.5,773.33 161.7,760.53" fill="#fff" stroke="#00BFFF" stroke-width="2.0" stroke-linejoin="round"/>
<polygon points="177.5,868.48 190.3,881.27 177.5,894.07 164.7,881.27" fill="#fff" stroke="#00BFFF" stroke-width="2.0" stroke-linejoin="round"/>
<polygon points="176.1,923.82 188.9,936.62 176.1,949.42 163.3,936.62" fill="#fff" stroke="#00BFFF" stroke-width="2.0" stroke-linejoin="round"/>
<polygon points="176.9,933.88 189.7,946.68 176.9,959.48 164.1,946.68" fill="#fff" stroke="#00BFFF" stroke-width="2.0" stroke-linejoin="round"/>
<polygon points="179.7,954 192.5,966.8 179.7,979.6 166.9,966.8" fill="#fff" stroke="#00BFFF" stroke-width="2.0" stroke-linejoin="round"/>
<polygon points="188,994.25 200.8,1007.05 188,1019.85 175.2,1007.05" fill="#fff" stroke="#00BFFF" stroke-width="2.0" stroke-linejoin="round"/>
<polygon points="201.5,1120.03 214.3,1132.83 201.5,1145.62 188.7,1132.83" fill="#fff" stroke="#00BFFF" stroke-width="2.0" stroke-linejoin="round"/>
<polygon points="207.2,1195.49 220,1208.29 207.2,1221.09 194.4,1208.29" fill="#fff" stroke="#00BFFF" stroke-width="2.0" stroke-linejoin="round"/>
<polygon points="208.9,1245.8 221.7,1258.6 208.9,1271.4 196.1,1258.6" fill="#fff" stroke="#00BFFF" stroke-width="2.0" stroke-linejoin="round"/>
<polygon points="212,1371.58 224.8,1384.38 212,1397.17 199.2,1384.38" fill="#fff" stroke="#00BFFF" stroke-width="2.0" stroke-linejoin="round"/>
</g>
<g clip-path="url(#cB2)">
<polyline points="620.7,760.53 672,881.27 709.9,936.62 738.2,946.68 741.2,966.8 757.2,1007.05 620.7,1132.83 592.9,1208.29 586.5,1258.6 580,1384.38" fill="none" stroke="#009600" stroke-width="2.2" stroke-linejoin="round" stroke-linecap="round"/>
<circle cx="620.7" cy="760.53" r="10.4" fill="#fff" stroke="#009600" stroke-width="2.0"/>
<circle cx="672" cy="881.27" r="10.4" fill="#fff" stroke="#009600" stroke-width="2.0"/>
<circle cx="709.9" cy="936.62" r="10.4" fill="#fff" stroke="#009600" stroke-width="2.0"/>
<circle cx="738.2" cy="946.68" r="10.4" fill="#fff" stroke="#009600" stroke-width="2.0"/>
<circle cx="741.2" cy="966.8" r="10.4" fill="#fff" stroke="#009600" stroke-width="2.0"/>
<circle cx="757.2" cy="1007.05" r="10.4" fill="#fff" stroke="#009600" stroke-width="2.0"/>
<circle cx="620.7" cy="1132.83" r="10.4" fill="#fff" stroke="#009600" stroke-width="2.0"/>
<circle cx="592.9" cy="1208.29" r="10.4" fill="#fff" stroke="#009600" stroke-width="2.0"/>
<circle cx="586.5" cy="1258.6" r="10.4" fill="#fff" stroke="#009600" stroke-width="2.0"/>
<circle cx="580" cy="1384.38" r="10.4" fill="#fff" stroke="#009600" stroke-width="2.0"/>
<polyline points="577.6,760.53 577.6,881.27 577.6,936.62 577.6,946.68 577.6,966.8 577.6,1007.05 577.6,1132.83 577.6,1208.29 577.6,1258.6 577.6,1384.38" fill="none" stroke="#008B8B" stroke-width="2.2" stroke-linejoin="round" stroke-linecap="round"/>
<path d="M567.45,750.38h20.3v20.3h-20.3Z M567.45,871.12h20.3v20.3h-20.3Z M567.45,926.47h20.3v20.3h-20.3Z M567.45,936.53h20.3v20.3h-20.3Z M567.45,956.65h20.3v20.3h-20.3Z M567.45,996.9h20.3v20.3h-20.3Z M567.45,1122.67h20.3v20.3h-20.3Z M567.45,1198.14h20.3v20.3h-20.3Z M567.45,1248.45h20.3v20.3h-20.3Z M567.45,1374.22h20.3v20.3h-20.3Z" fill="#008B8B"/>
<polyline points="577.6,760.53 597.73,881.27 597.73,936.62 638,946.68 658.13,966.8 617.87,1007.05 597.73,1132.83 597.73,1208.29 577.6,1258.6 577.6,1384.38" fill="none" stroke="#CD5C5C" stroke-width="2.2" stroke-linejoin="round" stroke-linecap="round"/>
<polygon points="577.6,744.36 591.61,768.62 563.59,768.62" fill="#CD5C5C" stroke="#CD5C5C" stroke-width="0.8" stroke-linejoin="miter"/>
<polygon points="597.73,865.1 611.74,889.36 583.73,889.36" fill="#CD5C5C" stroke="#CD5C5C" stroke-width="0.8" stroke-linejoin="miter"/>
<polygon points="597.73,920.44 611.74,944.7 583.73,944.7" fill="#CD5C5C" stroke="#CD5C5C" stroke-width="0.8" stroke-linejoin="miter"/>
<polygon points="638,930.5 652.01,954.76 623.99,954.76" fill="#CD5C5C" stroke="#CD5C5C" stroke-width="0.8" stroke-linejoin="miter"/>
<polygon points="658.13,950.63 672.14,974.89 644.13,974.89" fill="#CD5C5C" stroke="#CD5C5C" stroke-width="0.8" stroke-linejoin="miter"/>
<polygon points="617.87,990.88 631.87,1015.14 603.86,1015.14" fill="#CD5C5C" stroke="#CD5C5C" stroke-width="0.8" stroke-linejoin="miter"/>
<polygon points="597.73,1116.65 611.74,1140.91 583.73,1140.91" fill="#CD5C5C" stroke="#CD5C5C" stroke-width="0.8" stroke-linejoin="miter"/>
<polygon points="597.73,1192.12 611.74,1216.38 583.73,1216.38" fill="#CD5C5C" stroke="#CD5C5C" stroke-width="0.8" stroke-linejoin="miter"/>
<polygon points="577.6,1242.43 591.61,1266.69 563.59,1266.69" fill="#CD5C5C" stroke="#CD5C5C" stroke-width="0.8" stroke-linejoin="miter"/>
<polygon points="577.6,1368.2 591.61,1392.46 563.59,1392.46" fill="#CD5C5C" stroke="#CD5C5C" stroke-width="0.8" stroke-linejoin="miter"/>
<path d="M563.67,1006.4a1.85,1.85 0 1,0 3.7,0a1.85,1.85 0 1,0 -3.7,0ZM579,1006.4a1.85,1.85 0 1,0 3.7,0a1.85,1.85 0 1,0 -3.7,0ZM594.33,1006.4a1.85,1.85 0 1,0 3.7,0a1.85,1.85 0 1,0 -3.7,0ZM609.66,1006.4a1.85,1.85 0 1,0 3.7,0a1.85,1.85 0 1,0 -3.7,0ZM624.99,1006.4a1.85,1.85 0 1,0 3.7,0a1.85,1.85 0 1,0 -3.7,0ZM640.32,1006.4a1.85,1.85 0 1,0 3.7,0a1.85,1.85 0 1,0 -3.7,0ZM655.65,1006.4a1.85,1.85 0 1,0 3.7,0a1.85,1.85 0 1,0 -3.7,0ZM670.98,1006.4a1.85,1.85 0 1,0 3.7,0a1.85,1.85 0 1,0 -3.7,0ZM686.31,1006.4a1.85,1.85 0 1,0 3.7,0a1.85,1.85 0 1,0 -3.7,0ZM701.64,1006.4a1.85,1.85 0 1,0 3.7,0a1.85,1.85 0 1,0 -3.7,0ZM716.97,1006.4a1.85,1.85 0 1,0 3.7,0a1.85,1.85 0 1,0 -3.7,0ZM732.3,1006.4a1.85,1.85 0 1,0 3.7,0a1.85,1.85 0 1,0 -3.7,0ZM747.63,1006.4a1.85,1.85 0 1,0 3.7,0a1.85,1.85 0 1,0 -3.7,0ZM762.96,1006.4a1.85,1.85 0 1,0 3.7,0a1.85,1.85 0 1,0 -3.7,0ZM778.29,1006.4a1.85,1.85 0 1,0 3.7,0a1.85,1.85 0 1,0 -3.7,0ZM793.62,1006.4a1.85,1.85 0 1,0 3.7,0a1.85,1.85 0 1,0 -3.7,0ZM808.95,1006.4a1.85,1.85 0 1,0 3.7,0a1.85,1.85 0 1,0 -3.7,0ZM824.28,1006.4a1.85,1.85 0 1,0 3.7,0a1.85,1.85 0 1,0 -3.7,0ZM839.61,1006.4a1.85,1.85 0 1,0 3.7,0a1.85,1.85 0 1,0 -3.7,0ZM854.94,1006.4a1.85,1.85 0 1,0 3.7,0a1.85,1.85 0 1,0 -3.7,0ZM870.27,1006.4a1.85,1.85 0 1,0 3.7,0a1.85,1.85 0 1,0 -3.7,0ZM885.6,1006.4a1.85,1.85 0 1,0 3.7,0a1.85,1.85 0 1,0 -3.7,0Z" fill="#9E9E9E"/>
</g>
<g clip-path="url(#cB3)">
<polyline points="1066.8,760.53 1280.5,881.27 1176.7,966.8 1169.2,1007.05 1195.5,1132.83 1178.4,1258.6 984,1384.38" fill="none" stroke="#009999" stroke-width="2.2" stroke-linejoin="round" stroke-linecap="round"/>
<circle cx="1066.8" cy="760.53" r="10.4" fill="#fff" stroke="#009999" stroke-width="2.0"/>
<circle cx="1280.5" cy="881.27" r="10.4" fill="#fff" stroke="#009999" stroke-width="2.0"/>
<circle cx="1176.7" cy="966.8" r="10.4" fill="#fff" stroke="#009999" stroke-width="2.0"/>
<circle cx="1169.2" cy="1007.05" r="10.4" fill="#fff" stroke="#009999" stroke-width="2.0"/>
<circle cx="1195.5" cy="1132.83" r="10.4" fill="#fff" stroke="#009999" stroke-width="2.0"/>
<circle cx="1178.4" cy="1258.6" r="10.4" fill="#fff" stroke="#009999" stroke-width="2.0"/>
<circle cx="984" cy="1384.38" r="10.4" fill="#fff" stroke="#009999" stroke-width="2.0"/>
<path d="M972.28,1006.4a1.85,1.85 0 1,0 3.7,0a1.85,1.85 0 1,0 -3.7,0ZM987.61,1006.4a1.85,1.85 0 1,0 3.7,0a1.85,1.85 0 1,0 -3.7,0ZM1002.94,1006.4a1.85,1.85 0 1,0 3.7,0a1.85,1.85 0 1,0 -3.7,0ZM1018.27,1006.4a1.85,1.85 0 1,0 3.7,0a1.85,1.85 0 1,0 -3.7,0ZM1033.6,1006.4a1.85,1.85 0 1,0 3.7,0a1.85,1.85 0 1,0 -3.7,0ZM1048.93,1006.4a1.85,1.85 0 1,0 3.7,0a1.85,1.85 0 1,0 -3.7,0ZM1064.26,1006.4a1.85,1.85 0 1,0 3.7,0a1.85,1.85 0 1,0 -3.7,0ZM1079.59,1006.4a1.85,1.85 0 1,0 3.7,0a1.85,1.85 0 1,0 -3.7,0ZM1094.92,1006.4a1.85,1.85 0 1,0 3.7,0a1.85,1.85 0 1,0 -3.7,0ZM1110.25,1006.4a1.85,1.85 0 1,0 3.7,0a1.85,1.85 0 1,0 -3.7,0ZM1125.58,1006.4a1.85,1.85 0 1,0 3.7,0a1.85,1.85 0 1,0 -3.7,0ZM1140.91,1006.4a1.85,1.85 0 1,0 3.7,0a1.85,1.85 0 1,0 -3.7,0ZM1156.24,1006.4a1.85,1.85 0 1,0 3.7,0a1.85,1.85 0 1,0 -3.7,0ZM1171.57,1006.4a1.85,1.85 0 1,0 3.7,0a1.85,1.85 0 1,0 -3.7,0ZM1186.9,1006.4a1.85,1.85 0 1,0 3.7,0a1.85,1.85 0 1,0 -3.7,0ZM1202.23,1006.4a1.85,1.85 0 1,0 3.7,0a1.85,1.85 0 1,0 -3.7,0ZM1217.56,1006.4a1.85,1.85 0 1,0 3.7,0a1.85,1.85 0 1,0 -3.7,0ZM1232.89,1006.4a1.85,1.85 0 1,0 3.7,0a1.85,1.85 0 1,0 -3.7,0ZM1248.22,1006.4a1.85,1.85 0 1,0 3.7,0a1.85,1.85 0 1,0 -3.7,0ZM1263.55,1006.4a1.85,1.85 0 1,0 3.7,0a1.85,1.85 0 1,0 -3.7,0ZM1278.88,1006.4a1.85,1.85 0 1,0 3.7,0a1.85,1.85 0 1,0 -3.7,0ZM1294.21,1006.4a1.85,1.85 0 1,0 3.7,0a1.85,1.85 0 1,0 -3.7,0Z" fill="#9E9E9E"/>
<polyline points="998.3,760.53 986.2,881.27 986.2,966.8 986.2,1007.05 986.2,1132.83 986.2,1258.6 986.2,1384.38" fill="none" stroke="#C71585" stroke-width="2.2" stroke-linejoin="round" stroke-linecap="round"/>
<path d="M988.15,750.38h20.3v20.3h-20.3Z M976.05,871.12h20.3v20.3h-20.3Z M976.05,956.65h20.3v20.3h-20.3Z M976.05,996.9h20.3v20.3h-20.3Z M976.05,1122.67h20.3v20.3h-20.3Z M976.05,1248.45h20.3v20.3h-20.3Z M976.05,1374.22h20.3v20.3h-20.3Z" fill="#C71585"/>
</g>
<text x="429.2" y="219.7" font-size="36" fill="#404040">T</text>
<text x="197.6" y="273.2" font-size="36" fill="#00BFFF">SRP</text>
<text x="612.1" y="220" font-size="36" fill="#008B8B">PC</text>
<text x="721" y="259.8" font-size="36" fill="#009600">Chl</text>
<text x="834.3" y="220" font-size="36" fill="#CD5C5C">PE</text>
<text x="1053.1" y="219.3" font-size="36" fill="#C71585">Diazo</text>
<text x="1047.4" y="266.4" font-size="36" fill="#C71585">Cyano</text>
<text x="1129.5" y="521.9" font-size="36" fill="#009999">Shannon−</text>
<text x="1156.9" y="572.2" font-size="36" fill="#009999">Wiener</text>
<text x="402.9" y="567.3" font-size="36" fill="#0066CC">NO</text>
<text x="456.8" y="578.9" font-size="25.2" fill="#0066CC">3</text>
<rect x="458.8" y="535.4" width="17.3" height="3.0" fill="#0066CC"/>
<text x="418.1" y="398.8" font-size="36" fill="#999999">z</text>
<text x="436.1" y="405.5" font-size="25.2" fill="#999999">eu</text>
<text x="444.6" y="819" font-size="36" fill="#404040">T</text>
<text x="197.6" y="872.4" font-size="36" fill="#00BFFF">SRP</text>
<text x="602" y="858.4" font-size="36" fill="#008B8B">PC</text>
<text x="771.6" y="969.7" font-size="36" fill="#009600">Chl</text>
<text x="632.8" y="1045.2" font-size="36" fill="#CD5C5C">PE</text>
<text x="1015.5" y="818.5" font-size="36" fill="#C71585">Diazo</text>
<text x="1010" y="865.7" font-size="36" fill="#C71585">Cyano</text>
<text x="1182.1" y="1045.4" font-size="36" fill="#009999">Shannon−</text>
<text x="1208.9" y="1095.3" font-size="36" fill="#009999">Wiener</text>
<text x="402.2" y="1166.8" font-size="36" fill="#0066CC">NO</text>
<text x="456.1" y="1178.4" font-size="25.2" fill="#0066CC">3</text>
<rect x="458.1" y="1134.9" width="17.3" height="3.0" fill="#0066CC"/>
<text x="418.1" y="982.9" font-size="36" fill="#999999">z</text>
<text x="436.1" y="989.5" font-size="25.2" fill="#999999">eu</text>
</svg></body></html>
